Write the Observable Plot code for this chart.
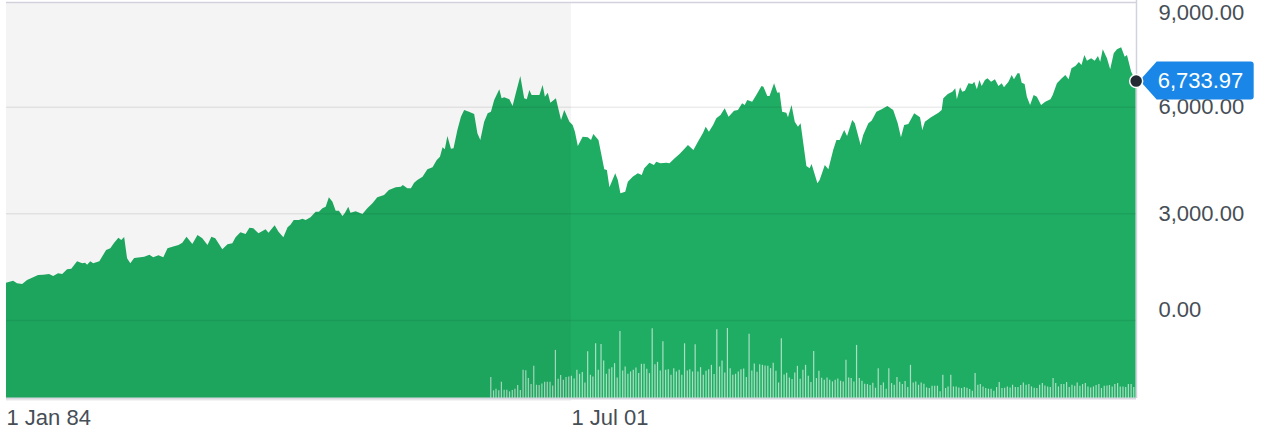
<!DOCTYPE html>
<html><head><meta charset="utf-8">
<script src="https://cdn.jsdelivr.net/npm/d3@7"></script>
<script src="https://cdn.jsdelivr.net/npm/@observablehq/plot@0.6"></script>
<style>
html,body{margin:0;padding:0;background:#fff;}
#chart{position:relative;width:1272px;height:436px;overflow:hidden;}
svg{display:block;}
</style></head><body><div id="chart"></div>
<script>
// Index level (decimal year, close)
const years = [1984.00,1984.22,1984.34,1984.50,1984.65,1984.84,1984.99,1985.15,1985.33,1985.46,1985.61,1985.74,1985.89,1986.02,1986.20,1986.36,1986.45,1986.51,1986.61,1986.70,1986.89,1987.10,1987.23,1987.35,1987.48,1987.57,1987.66,1987.75,1987.85,1987.97,1988.16,1988.28,1988.44,1988.56,1988.72,1988.87,1989.00,1989.15,1989.34,1989.46,1989.59,1989.77,1989.93,1990.08,1990.24,1990.36,1990.48,1990.70,1990.86,1991.01,1991.11,1991.26,1991.42,1991.54,1991.66,1991.82,1992.04,1992.13,1992.32,1992.44,1992.59,1992.72,1992.81,1992.91,1993.07,1993.18,1993.28,1993.43,1993.59,1993.69,1993.80,1993.90,1994.00,1994.11,1994.21,1994.31,1994.42,1994.49,1994.60,1994.67,1994.83,1995.04,1995.19,1995.35,1995.50,1995.71,1995.86,1996.07,1996.23,1996.29,1996.43,1996.54,1996.64,1996.74,1996.90,1997.05,1997.21,1997.34,1997.44,1997.52,1997.59,1997.67,1997.78,1997.86,1997.98,1998.09,1998.19,1998.34,1998.50,1998.60,1998.69,1998.81,1998.92,1999.02,1999.12,1999.28,1999.35,1999.43,1999.59,1999.69,1999.79,1999.93,2000.05,2000.13,2000.21,2000.28,2000.41,2000.52,2000.62,2000.69,2000.78,2000.86,2001.03,2001.19,2001.29,2001.45,2001.55,2001.62,2001.71,2001.86,2002.02,2002.12,2002.19,2002.35,2002.53,2002.61,2002.69,2002.87,2002.95,2003.03,2003.18,2003.26,2003.41,2003.57,2003.69,2003.77,2003.93,2004.07,2004.14,2004.27,2004.45,2004.55,2004.71,2004.86,2005.00,2005.12,2005.29,2005.43,2005.59,2005.67,2005.77,2005.90,2006.00,2006.13,2006.26,2006.38,2006.55,2006.67,2006.80,2006.88,2006.96,2007.11,2007.24,2007.40,2007.46,2007.58,2007.65,2007.79,2007.89,2007.96,2008.04,2008.17,2008.22,2008.33,2008.43,2008.53,2008.61,2008.79,2008.89,2008.95,2009.13,2009.20,2009.36,2009.47,2009.62,2009.72,2009.82,2009.96,2010.05,2010.21,2010.29,2010.47,2010.55,2010.71,2010.81,2010.96,2011.12,2011.30,2011.48,2011.62,2011.72,2011.82,2011.95,2012.13,2012.31,2012.38,2012.46,2012.65,2012.88,2012.98,2013.03,2013.17,2013.31,2013.40,2013.45,2013.55,2013.62,2013.70,2013.81,2013.93,2013.99,2014.07,2014.15,2014.22,2014.32,2014.40,2014.51,2014.63,2014.74,2014.84,2014.91,2015.05,2015.15,2015.22,2015.33,2015.39,2015.46,2015.55,2015.62,2015.72,2015.83,2015.93,2016.06,2016.19,2016.35,2016.42,2016.55,2016.70,2016.81,2016.91,2017.00,2017.12,2017.23,2017.31,2017.40,2017.48,2017.61,2017.72,2017.82,2017.89,2017.97,2018.10,2018.20,2018.31,2018.41,2018.54,2018.65,2018.72,2018.85,2018.99];
const closes = [1049,1105,1032,1013,1125,1201,1266,1274,1294,1238,1313,1294,1426,1443,1651,1595,1612,1555,1651,1595,1651,1969,2017,2174,2315,2250,2334,1735,1595,1744,1763,1780,1837,1763,1820,1763,2017,2062,2109,2174,2343,2138,2391,2298,2109,2343,2298,1988,2129,2157,2326,2467,2419,2596,2579,2438,2551,2455,2663,2483,2326,2607,2680,2813,2813,2849,2813,2888,3046,3046,3142,3187,3451,3327,3074,3074,2925,3001,3187,3018,3057,2981,3142,3282,3451,3516,3656,3732,3749,3797,3704,3704,3862,3938,4030,4238,4295,4500,4593,4857,4801,5175,4818,4829,5344,5718,5906,5858,5794,5251,5063,5577,5813,5858,6188,6488,6235,6263,6207,6019,6376,6863,6235,6207,6469,6328,6328,6328,6609,6280,6393,6112,6235,5625,5906,5577,5484,5296,4894,5155,5138,5063,5231,5063,4238,4219,3732,4126,3938,3563,3608,3890,4030,4126,4078,4266,4424,4359,4452,4407,4424,4407,4548,4669,4801,4922,4781,5015,5268,5437,5296,5484,5673,5766,5954,5718,5887,5906,6095,6047,6188,6140,6328,6581,6563,6300,6300,6657,6393,6404,5858,5830,5701,6047,5577,5437,5532,4331,4266,4388,3845,3938,4359,4238,4781,5063,5063,5344,5175,5625,5532,4922,5203,5532,5605,5858,5926,6019,5906,5532,5138,5484,5513,5813,5701,5344,5577,5701,5830,5906,6235,6356,6421,6517,6207,6545,6421,6449,6657,6638,6702,6488,6750,6581,6750,6798,6702,6770,6581,6657,6545,6702,6891,6770,6938,6938,6674,6638,6280,6047,6328,6280,6047,6140,6207,6328,6657,6798,6891,6770,7079,7144,7256,7172,7453,7293,7360,7293,7425,7265,7613,7360,7051,7501,7613,7670,7405,7453,6983,6733.97];

// Monthly volume (relative units) from Jan 1999
const volumeStart = "1999-01-01";
const volumes = [63,23,28,23,49,25,25,20,24,28,39,24,85,84,60,42,97,40,39,44,49,49,49,38,145,58,69,55,63,65,67,59,85,73,78,47,141,70,65,165,85,163,113,73,88,93,105,62,202,83,95,73,80,85,92,75,103,103,88,75,210,102,109,83,171,85,87,70,90,80,85,70,165,83,87,80,162,80,93,
70,82,87,100,72,207,95,113,77,211,90,70,73,80,87,89,63,194,83,104,79,102,100,98,97,90,106,82,47,180,71,76,62,57,77,97,58,85,100,67,48,142,60,82,61,55,62,55,50,55,59,52,50,115,62,60,50,160,60,52,43,42,39,46,31,90,39,47,28,90,45,40,63,49,42,51,33,100,47,50,
40,47,43,32,30,37,37,37,20,70,30,35,70,35,35,32,30,33,31,27,22,75,40,42,35,30,28,28,22,33,48,30,31,35,32,40,33,33,39,47,40,42,35,31,30,40,45,38,35,33,60,45,35,42,42,48,33,40,37,47,37,42,45,35,32,35,39,42,30,37,38,39,35,42,45,35,35,33,42,42,33];

const xTickDates = ["1984-01-01", "2001-07-01"];
const xTickLabels = ["1 Jan 84", "1 Jul 01"];
const yTicks = [9000, 6000, 3000, 0];
const shadeEnd = "2001-07-01";

function decYear(y) {
  const yr = Math.floor(y);
  const a = Date.UTC(yr, 0, 1), b = Date.UTC(yr + 1, 0, 1);
  return new Date(a + (y - yr) * (b - a));
}
const n = Math.min(years.length, closes.length);
const prices = d3.range(n).map(i => ({date: decYear(years[i]), close: closes[i]}));
const vStart = new Date(volumeStart);
const vols = volumes.map((v, i) => ({date: d3.utcMonth.offset(vStart, i), vol: v}));
const last = prices[prices.length - 1];

const W = 1272, H = 436, mTop = 0, mRight = 136, mBottom = 38, mLeft = 6;
const yMax = 9000, yMin = -2193.75;
const xDomain = [new Date("1984-01-01"), new Date("2019-01-01")];
const unitsPerPx = (yMax - yMin) / (H - mTop - mBottom);
const volK = 70 * unitsPerPx / d3.max(volumes);

const green = "#1fad63";
const txt = "#464e56";
const font = "'Liberation Sans', Arial, Helvetica, sans-serif";
const fmt = d3.format(",.2f");
const fs = 22;
const axisCommon = {anchor: "right", tickSize: 0, tickPadding: 22, textAnchor: "start",
  tickFormat: fmt, fontSize: fs, fill: txt, label: null};

const plot = Plot.plot({
  width: W, height: H,
  marginTop: mTop, marginRight: mRight, marginBottom: mBottom, marginLeft: mLeft,
  style: {fontFamily: font, background: "#fff", overflow: "visible"},
  x: {type: "utc", domain: xDomain},
  y: {domain: [yMin, yMax]},
  marks: [
    Plot.areaY(prices, {x: "date", y1: yMin, y2: "close", fill: green}),
    Plot.ruleX(vols, {x: "date", y1: yMin, y2: d => yMin + d.vol * volK,
      stroke: "#ffffff", strokeOpacity: 0.62, strokeWidth: 1.2}),
    Plot.ruleY(yTicks.filter(t => t < yMax), {stroke: "#000", strokeOpacity: 0.075, strokeWidth: 1.5}),
    Plot.rect([{a: xDomain[0], b: new Date(shadeEnd)}],
      {x1: "a", x2: "b", y1: yMin, y2: yMax, dy: 3, fill: "#000", fillOpacity: 0.045}),
    Plot.ruleY([yMax], {stroke: "#d2d2dc", strokeWidth: 1.5, dy: 2}),
    Plot.ruleY([yMin], {stroke: "#d8d8e0", strokeWidth: 2}),
    Plot.ruleX([xDomain[1]], {stroke: "#d2d2dc", strokeWidth: 1.5}),
    Plot.axisY(yTicks.slice(1, -1), axisCommon),
    Plot.axisY(yTicks.slice(0, 1), {...axisCommon, dy: 12}),
    Plot.axisY(yTicks.slice(-1), {...axisCommon, dy: -11}),
    Plot.axisX(xTickDates.map(d => new Date(d)), {anchor: "bottom", tickSize: 0, tickPadding: 11,
      textAnchor: "start", tickFormat: (d, i) => xTickLabels[i], fontSize: fs, fill: txt, label: null}),
    Plot.dot([last], {x: "date", y: "close", r: 6.5, fill: "#232a31", stroke: "#fff", strokeWidth: 1.5})
  ]
});
document.getElementById("chart").appendChild(plot);

// price callout, positioned through the plot's own scales, placed beneath the end dot
const cx = plot.scale("x").apply(last.date);
const cy = plot.scale("y").apply(last.close);
const dotGroup = plot.querySelector('g[aria-label="dot"]');
const gNode = document.createElementNS("http://www.w3.org/2000/svg", "g");
plot.insertBefore(gNode, dotGroup);
const g = d3.select(gNode);
const bx0 = cx + 21, bx1 = cx + 118, hh = 19;
g.append("path")
  .attr("d", `M${cx + 4},${cy} L${bx0},${cy - hh} H${bx1 - 3} Q${bx1},${cy - hh} ${bx1},${cy - hh + 3} V${cy + hh - 3} Q${bx1},${cy + hh} ${bx1 - 3},${cy + hh} H${bx0} Z`)
  .attr("fill", "#1a87e8");
g.append("text")
  .attr("x", cx + 22).attr("y", cy)
  .attr("dy", "0.35em")
  .attr("text-anchor", "start")
  .attr("fill", "#fff")
  .attr("font-size", fs)
  .attr("font-family", font)
  .text(fmt(last.close));
</script></body></html>
